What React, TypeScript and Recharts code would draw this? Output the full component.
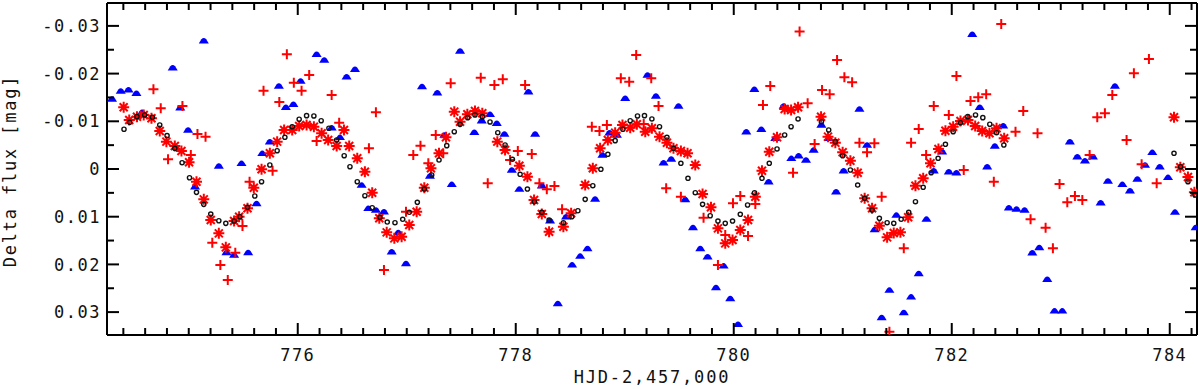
import { Scatter, ScatterChart, XAxis, YAxis } from "recharts";

type Pt = [number, number];

const X_DOMAIN: [number, number] = [774.25, 784.25];
const Y_DOMAIN: [number, number] = [-0.0348, 0.0348];
const X_LABEL_TICKS = [776, 778, 780, 782, 784];
const Y_LABEL_TICKS = [-0.03, -0.02, -0.01, 0, 0.01, 0.02, 0.03];
const Y_TICKS = [
  -0.03, -0.025, -0.02, -0.015, -0.01, -0.005, 0, 0.005, 0.01, 0.015, 0.02,
  0.025, 0.03,
];
// minor ticks every 0.2 d
const X_TICKS = Array.from(
  { length: 50 },
  (_, i) => Math.round((774.4 + i * 0.2) * 10) / 10
);

// blue semicircle markers
const blueSeries: Pt[] = [
  [774.296, -0.01468], [774.376, -0.01636], [774.447, -0.01664], [774.52, -0.01588],
  [774.571, -0.01189], [774.853, -0.02125], [774.922, -0.01286], [774.994, -0.00818],
  [775.058, 0.00371], [775.138, -0.02691], [775.276, -0.00063], [775.346, 0.01747],
  [775.416, 0.01804], [775.484, -0.0012], [775.545, 0.01747], [775.622, 0.0072],
  [775.675, -0.00329], [775.744, -0.00573], [775.827, -0.01741], [775.891, -0.01294],
  [775.96, -0.01357], [776.026, -0.01846], [776.173, -0.02406], [776.243, -0.02287],
  [776.311, -0.00866], [776.387, -0.00665], [776.448, -0.01936], [776.525, -0.02091],
  [776.586, 0.00336], [776.647, 0.00824], [776.717, 0.0086], [776.791, 0.00896],
  [776.862, 0.01735], [776.922, 0.01328], [776.993, 0.01978], [777.14, -0.01731],
  [777.213, 0.00147], [777.28, -0.01601], [777.345, -0.00713], [777.413, 0.00321],
  [777.489, -0.02475], [777.62, -0.0077], [777.688, -0.01013], [777.764, -0.01147],
  [777.826, -0.00959], [777.896, -0.00734], [777.964, 0.00021], [778.033, 0.0042],
  [778.116, -0.01622], [778.178, -0.00734], [778.239, 0.0035], [778.315, 0.01085],
  [778.386, 0.02817], [778.462, 0.01001], [778.517, 0.02008], [778.591, 0.01825],
  [778.658, 0.01664], [778.728, 0.00629], [778.795, -0.00294], [778.86, -0.00761],
  [778.928, -0.00713], [779.004, -0.01483], [779.209, -0.01972], [779.286, -0.01531],
  [779.356, -0.00132], [779.426, -0.0021], [779.493, -0.01322], [779.555, 0.00636],
  [779.626, 0.01223], [779.693, 0.01664], [779.76, 0.0184], [779.837, 0.02482],
  [779.907, 0.02029], [779.968, 0.02712], [780.039, 0.03252], [780.115, -0.00782],
  [780.189, -0.01672], [780.253, -0.00833], [780.32, 0.00266], [780.381, -0.00644],
  [780.458, -0.01322], [780.528, -0.00224], [780.595, -0.00279], [780.663, -0.00189],
  [780.733, -0.00399], [780.804, -0.00923], [780.871, -0.00644], [780.939, 0.00476],
  [781.008, 0.00036], [781.153, -0.01259], [781.223, -0.00503], [781.293, 0.01265],
  [781.357, 0.03111], [781.428, 0.02538], [781.492, 0.00965], [781.56, 0.03006],
  [781.627, 0.02679], [781.697, 0.02188], [781.768, 0.01049], [781.835, 0.00036],
  [781.912, -0.00363], [781.973, 0.00057], [782.043, 0.00078], [782.188, -0.02826],
  [782.257, -0.01294], [782.325, -0.00048], [782.395, -0.00482], [782.472, -0.00908],
  [782.524, 0.00812], [782.594, 0.00839], [782.668, 0.0086], [782.739, 0.01756],
  [782.803, 0.01643], [782.876, 0.02308], [782.943, 0.02973], [783.014, 0.02973],
  [783.084, -0.00573], [783.152, -0.00258], [783.222, -0.00174], [783.295, -0.00258],
  [783.366, 0.00707], [783.433, 0.00252], [783.497, -0.01741], [783.565, 0.00321],
  [783.635, 0.00455], [783.703, 0.0021], [783.773, -0.00084], [783.84, -0.0035],
  [783.908, -0.00048], [783.984, 0.00174], [784.048, 0.00902], [784.238, 0.01223],
];

// red plus markers
const plusSeries: Pt[] = [
  [774.676, -0.01672], [774.743, -0.01273], [774.81, -0.00203], [774.942, -0.01322],
  [775.019, -0.00294], [775.08, -0.00734], [775.154, -0.00678], [775.216, 0.01546],
  [775.29, 0.02014], [775.358, 0.02328], [775.427, 0.01756], [775.493, 0.01196],
  [775.558, 0.00266], [775.686, -0.01643], [775.769, 0.00036], [775.831, -0.01405],
  [775.9, -0.02406], [775.964, -0.0181], [776.035, -0.01643], [776.105, -0.01972],
  [776.173, -0.00587], [776.311, -0.01552], [776.38, -0.00971], [776.653, -0.00434],
  [776.717, -0.01189], [776.791, 0.02119], [776.993, 0.00896], [777.06, -0.00294],
  [777.126, -0.00489], [777.198, -0.0012], [777.266, -0.00713], [777.335, -0.00329],
  [777.403, -0.01798], [777.679, -0.01915], [777.743, 0.003], [777.804, -0.01762],
  [777.881, -0.01882], [777.948, -0.00189], [778.019, -0.00378], [778.086, -0.01762],
  [778.147, -0.00315], [778.217, 0.003], [778.285, 0.00426], [778.355, 0.00357],
  [778.425, 0.00845], [778.698, -0.00887], [778.768, -0.00797], [778.836, -0.00923],
  [778.964, -0.01903], [779.041, -0.01831], [779.105, -0.02391], [779.174, -0.00944],
  [779.243, -0.01903], [779.31, -0.01322], [779.38, 0.00405], [779.515, 0.00581],
  [779.723, 0.01022], [779.855, 0.02014], [779.922, 0.01385], [779.993, 0.0072],
  [780.06, 0.00566], [780.131, 0.01406], [780.198, 0.00734], [780.268, -0.01343],
  [780.335, -0.01741], [780.544, 0.00078], [780.604, -0.0288], [780.678, -0.01378],
  [780.742, -0.00524], [780.81, -0.01657], [780.88, -0.01567], [780.948, -0.02287],
  [781.015, -0.01924], [781.086, -0.01819], [781.153, -0.00552], [781.223, -0.0035],
  [781.29, -0.00539], [781.357, 0.00581], [781.428, 0.03413], [781.56, 0.01664],
  [781.627, -0.00552], [781.697, -0.00839], [781.765, -0.00294], [781.835, -0.01322],
  [781.973, -0.01133], [782.043, -0.01951], [782.11, 0.00021], [782.172, -0.01426],
  [782.243, -0.01504], [782.316, -0.01567], [782.386, 0.00266], [782.454, -0.03042],
  [782.585, -0.00782], [782.656, -0.01217], [782.723, 0.01055], [782.787, -0.00749],
  [782.861, 0.01231], [782.928, 0.01664], [782.989, 0.00315], [783.06, 0.00699],
  [783.13, 0.00566], [783.198, 0.0065], [783.265, -0.00294], [783.335, -0.01085],
  [783.405, -0.01168], [783.473, -0.01552], [783.604, -0.00608], [783.671, -0.02008],
  [783.742, -0.00099], [783.809, -0.02308], [783.88, 0.003],
];

// red asterisk markers
const starSeries: Pt[] = [
  [774.403, -0.01294], [774.454, -0.01028], [774.525, -0.01097], [774.587, -0.01133],
  [774.658, -0.01064], [774.734, -0.00797], [774.795, -0.00573], [774.872, -0.00482],
  [774.933, -0.00378], [775.003, -0.00141], [775.071, 0.00266], [775.138, 0.00636],
  [775.202, 0.0107], [775.276, 0.01349], [775.34, 0.01643], [775.416, 0.01091],
  [775.462, 0.01001], [775.539, 0.00824], [775.597, 0.00392], [775.668, 0.00006],
  [775.744, -0.00329], [775.811, -0.00573], [775.875, -0.00818], [775.949, -0.00818],
  [776.013, -0.00902], [776.081, -0.00923], [776.148, -0.00887], [776.219, -0.00749],
  [776.279, -0.00608], [776.357, -0.00482], [776.424, -0.00818], [776.472, -0.00482],
  [776.546, -0.00224], [776.616, 0.00057], [776.683, 0.00497], [776.748, 0.01034],
  [776.816, 0.01328], [776.886, 0.01454], [776.953, 0.0142], [777.023, 0.01175],
  [777.091, 0.00896], [777.161, 0.00392], [777.222, -0.00015], [777.296, -0.00329],
  [777.36, -0.00665], [777.436, -0.01202], [777.489, -0.00992], [777.556, -0.01147],
  [777.626, -0.01217], [777.693, -0.01168], [777.831, -0.00573], [777.902, -0.00399],
  [778.033, -0.00069], [778.107, 0.00162], [778.168, 0.0065], [778.239, 0.00944],
  [778.306, 0.01315], [778.437, 0.0121], [778.508, 0.00929], [778.637, 0.00336],
  [778.707, -0.00015], [778.774, -0.00434], [778.845, -0.00608], [778.912, -0.00761],
  [778.979, -0.00923], [779.05, -0.00866], [779.111, -0.00938], [779.188, -0.00782],
  [779.249, -0.00854], [779.319, -0.00678], [779.387, -0.00552], [779.447, -0.00434],
  [779.515, -0.00378], [779.576, -0.00329], [779.647, -0.00084], [779.714, 0.00524],
  [779.791, 0.00803], [779.855, 0.01244], [779.922, 0.01559], [779.989, 0.01489],
  [780.06, 0.0128], [780.131, 0.0107], [780.198, 0.00581], [780.259, 0.00036],
  [780.326, -0.00363], [780.397, -0.00665], [780.467, -0.01259], [780.526, -0.01238],
  [780.59, -0.01294], [780.801, -0.01097], [780.865, -0.00678], [780.932, -0.00552],
  [780.999, -0.0035], [781.07, -0.00174], [781.137, 0.00078], [781.201, 0.00615],
  [781.269, 0.00824], [781.336, 0.01189], [781.407, 0.01433], [781.468, 0.01343],
  [781.529, 0.01328], [781.6, 0.01013], [781.667, 0.0035], [781.738, 0.00195],
  [781.805, -0.0012], [781.878, -0.0042], [781.942, -0.00803], [782.013, -0.00887],
  [782.08, -0.01007], [782.149, -0.01028], [782.215, -0.00902], [782.279, -0.00797],
  [782.346, -0.00749], [782.411, -0.00854], [782.481, -0.00644], [784.039, -0.01085],
  [784.097, -0.00036], [784.167, 0.00168], [784.226, 0.00489],
];

// black open circles
const circleSeries: Pt[] = [
  [774.406, -0.00833], [774.458, -0.0098], [774.525, -0.01097], [774.596, -0.01133],
  [774.667, -0.01085], [774.734, -0.00923], [774.801, -0.00699], [774.872, -0.00434],
  [774.939, -0.00132], [775.007, 0.00183], [775.071, 0.00489], [775.138, 0.00741],
  [775.202, 0.00944], [775.276, 0.01085], [775.34, 0.01139], [775.416, 0.01091],
  [775.469, 0.01001], [775.539, 0.00803], [775.606, 0.00566], [775.668, 0.00266],
  [775.744, -0.00084], [775.811, -0.00384], [775.882, -0.00665], [775.949, -0.00887],
  [776.013, -0.01043], [776.081, -0.01118], [776.148, -0.01112], [776.215, -0.01013],
  [776.286, -0.00854], [776.357, -0.00608], [776.426, -0.00279], [776.479, -0.00048],
  [776.546, 0.00266], [776.616, 0.0056], [776.683, 0.00812], [776.754, 0.01013],
  [776.821, 0.01112], [776.892, 0.01126], [776.963, 0.01055], [777.023, 0.00908],
  [777.097, 0.00699], [777.161, 0.0042], [777.229, 0.00126], [777.296, -0.00189],
  [777.367, -0.00489], [777.436, -0.00782], [777.489, -0.00938], [777.559, -0.01076],
  [777.626, -0.01133], [777.693, -0.01097], [777.764, -0.00986], [777.835, -0.00761],
  [777.902, -0.00503], [777.969, -0.00203], [778.04, 0.00111], [778.107, 0.0042],
  [778.171, 0.00686], [778.239, 0.00908], [778.306, 0.0107], [778.437, 0.01126],
  [778.514, 0.01001], [778.57, 0.00875], [778.637, 0.00636], [778.707, 0.0035],
  [778.781, 0.00006], [778.845, -0.00308], [778.912, -0.00594], [778.983, -0.00833],
  [779.05, -0.01013], [779.117, -0.01112], [779.181, -0.01118], [779.249, -0.01049],
  [779.319, -0.00887], [779.387, -0.00665], [779.447, -0.00434], [779.515, -0.0012],
  [779.58, 0.00195], [779.647, 0.00497], [779.714, 0.00741], [779.784, 0.0098],
  [779.855, 0.01091], [779.922, 0.01139], [779.989, 0.01091], [780.06, 0.0095],
  [780.127, 0.00755], [780.191, 0.00497], [780.259, 0.00195], [780.326, -0.0012],
  [780.397, -0.0042], [780.467, -0.00713], [780.526, -0.00887], [780.59, -0.01049],
  [780.804, -0.00992], [780.871, -0.00818], [780.932, -0.00573], [780.999, -0.00279],
  [781.07, 0.00021], [781.137, 0.00336], [781.201, 0.00615], [781.269, 0.0086],
  [781.336, 0.01034], [781.407, 0.01126], [781.468, 0.01139], [781.536, 0.01055],
  [781.605, 0.00908], [781.667, 0.00686], [781.738, 0.00384], [781.811, 0.00078],
  [781.875, -0.00224], [781.942, -0.00518], [782.013, -0.00782], [782.08, -0.00971],
  [782.147, -0.01097], [782.218, -0.01133], [782.285, -0.01076], [782.349, -0.00938],
  [782.411, -0.00761], [782.478, -0.00503], [784.039, -0.00329], [784.1, -0.00048],
  [784.167, 0.00266], [784.232, 0.00545],
];

const toRows = (pts: Pt[]) => pts.map(([x, y]) => ({ x, y }));

const FONT = "'DejaVu Sans Mono', monospace";
const MAJOR_LEN = 12;
const MINOR_LEN = 7;

interface TickProps {
  x?: number;
  y?: number;
  payload?: { value?: number | string };
}

function isMajorX(v: number) {
  const r = Math.round(v);
  return Math.abs(v - r) < 1e-6 && X_LABEL_TICKS.includes(r);
}

function isMajorY(v: number) {
  return Y_LABEL_TICKS.some((t) => Math.abs(t - v) < 1e-7);
}

function formatY(v: number) {
  if (Math.abs(v) < 1e-9) return "0";
  return v.toFixed(2);
}

function BottomTick({ x = 0, y = 0, payload }: TickProps) {
  const v = Number(payload?.value);
  const major = isMajorX(v);
  return (
    <g>
      <line x1={x} x2={x} y1={y} y2={y - (major ? MAJOR_LEN : MINOR_LEN)} stroke="#000" strokeWidth={2} />
      {major && (
        <text x={x} y={y + 26} textAnchor="middle" fontFamily={FONT} fontSize={17} letterSpacing={1.5} fill="#111">
          {Math.round(v)}
        </text>
      )}
    </g>
  );
}

function TopTick({ x = 0, y = 0, payload }: TickProps) {
  const v = Number(payload?.value);
  const major = isMajorX(v);
  return <line x1={x} x2={x} y1={y} y2={y + (major ? MAJOR_LEN : MINOR_LEN)} stroke="#000" strokeWidth={2} />;
}

function LeftTick({ x = 0, y = 0, payload }: TickProps) {
  const v = Number(payload?.value);
  const major = isMajorY(v);
  return (
    <g>
      <line x1={x} x2={x + (major ? MAJOR_LEN : MINOR_LEN)} y1={y} y2={y} stroke="#000" strokeWidth={2} />
      {major && (
        <text x={x - 6} y={y} dy="0.36em" textAnchor="end" fontFamily={FONT} fontSize={17} letterSpacing={1.5} fill="#111">
          {formatY(v)}
        </text>
      )}
    </g>
  );
}

function RightTick({ x = 0, y = 0, payload }: TickProps) {
  const v = Number(payload?.value);
  const major = isMajorY(v);
  return <line x1={x} x2={x - (major ? MAJOR_LEN : MINOR_LEN)} y1={y} y2={y} stroke="#000" strokeWidth={2} />;
}

interface LabelProps {
  viewBox?: { x?: number; y?: number; width?: number; height?: number };
}

function XTitle({ viewBox }: LabelProps) {
  const x = (viewBox?.x ?? 0) + (viewBox?.width ?? 0) / 2;
  const y = (viewBox?.y ?? 0) + 48;
  return (
    <text x={x} y={y} textAnchor="middle" fontFamily={FONT} fontSize={17} letterSpacing={1.8} fill="#111">
      HJD-2,457,000
    </text>
  );
}

function YTitle({ viewBox }: LabelProps) {
  const cy = (viewBox?.y ?? 0) + (viewBox?.height ?? 0) / 2 + 2;
  const x = 16;
  return (
    <text x={x} y={cy} transform={`rotate(-90, ${x}, ${cy})`} textAnchor="middle" fontFamily={FONT} fontSize={17} letterSpacing={1.8} fill="#111">
      Delta flux [mag]
    </text>
  );
}

interface ShapeProps {
  cx?: number;
  cy?: number;
}

function Dome({ cx = 0, cy = 0 }: ShapeProps) {
  return (
    <path
      d={`M${cx - 5},${cy + 2.8} L${cx - 2.4},${cy - 1.4} Q${cx},${cy - 4} ${cx + 2.4},${cy - 1.4} L${cx + 5},${cy + 2.8} Z`}
      fill="#0000ff"
    />
  );
}

function Plus({ cx = 0, cy = 0 }: ShapeProps) {
  const s = 5;
  return (
    <path d={`M${cx - s},${cy} H${cx + s} M${cx},${cy - s} V${cy + s}`} stroke="#ff0000" strokeWidth={2} fill="none" />
  );
}

function Star({ cx = 0, cy = 0 }: ShapeProps) {
  const s = 5.5;
  const d = 4;
  return (
    <path
      d={`M${cx - s},${cy} H${cx + s} M${cx},${cy - s} V${cy + s} M${cx - d},${cy - d} L${cx + d},${cy + d} M${cx - d},${cy + d} L${cx + d},${cy - d}`}
      stroke="#ff0000"
      strokeWidth={2}
      fill="none"
    />
  );
}

function Ring({ cx = 0, cy = 0 }: ShapeProps) {
  return <circle cx={cx} cy={cy} r={2.1} fill="none" stroke="#111" strokeWidth={1.4} />;
}

const axisLine = { stroke: "#000", strokeWidth: 2 };

export default function App() {
  return (
    <div style={{ position: "absolute", left: 0, top: 0, background: "#fff" }}>
      <ScatterChart width={1200} height={389} margin={{ top: 1, right: 1, bottom: 0, left: 0 }}>
        <XAxis
          xAxisId="b"
          type="number"
          dataKey="x"
          domain={X_DOMAIN}
          ticks={X_TICKS}
          interval={0}
          height={54}
          tickSize={0}
          tickMargin={0}
          tickLine={false}
          axisLine={axisLine}
          tick={<BottomTick />}
          allowDataOverflow
          label={<XTitle />}
        />
        <XAxis
          xAxisId="t"
          orientation="top"
          type="number"
          dataKey="x"
          domain={X_DOMAIN}
          ticks={X_TICKS}
          interval={0}
          height={2}
          tickSize={0}
          tickMargin={0}
          tickLine={false}
          axisLine={axisLine}
          tick={<TopTick />}
          allowDataOverflow
        />
        <YAxis
          yAxisId="l"
          type="number"
          dataKey="y"
          domain={Y_DOMAIN}
          reversed
          ticks={Y_TICKS}
          interval={0}
          width={107}
          tickSize={0}
          tickMargin={0}
          tickLine={false}
          axisLine={axisLine}
          tick={<LeftTick />}
          allowDataOverflow
          label={<YTitle />}
        />
        <YAxis
          yAxisId="r"
          orientation="right"
          type="number"
          dataKey="y"
          domain={Y_DOMAIN}
          reversed
          ticks={Y_TICKS}
          interval={0}
          width={2}
          tickSize={0}
          tickMargin={0}
          tickLine={false}
          axisLine={axisLine}
          tick={<RightTick />}
          allowDataOverflow
        />
        <Scatter xAxisId="b" yAxisId="l" data={toRows(blueSeries)} shape={(p: ShapeProps) => <Dome cx={p.cx} cy={p.cy} />} isAnimationActive={false} />
        <Scatter xAxisId="b" yAxisId="l" data={toRows(plusSeries)} shape={(p: ShapeProps) => <Plus cx={p.cx} cy={p.cy} />} isAnimationActive={false} />
        <Scatter xAxisId="b" yAxisId="l" data={toRows(starSeries)} shape={(p: ShapeProps) => <Star cx={p.cx} cy={p.cy} />} isAnimationActive={false} />
        <Scatter xAxisId="b" yAxisId="l" data={toRows(circleSeries)} shape={(p: ShapeProps) => <Ring cx={p.cx} cy={p.cy} />} isAnimationActive={false} />
      </ScatterChart>
    </div>
  );
}
